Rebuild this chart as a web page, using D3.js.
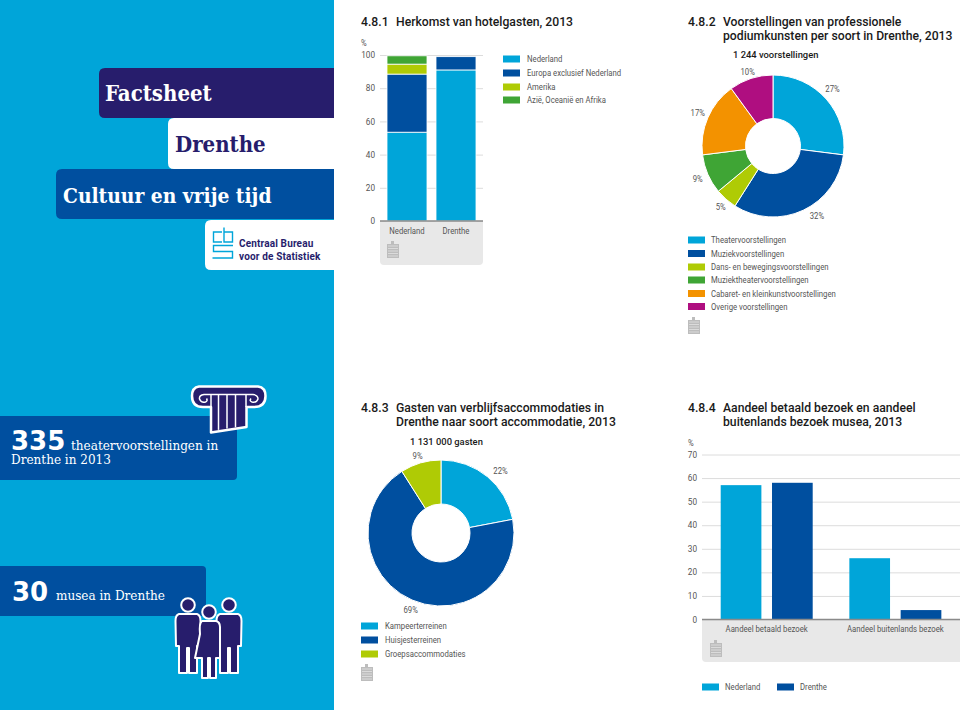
<!DOCTYPE html>
<html><head><meta charset="utf-8">
<script src="https://cdn.jsdelivr.net/npm/d3@7/dist/d3.min.js"></script>
<style>
html,body{margin:0;padding:0;background:#fff}
svg{display:block}
text{font-family:Roboto,sans-serif}
.t{font-weight:500;font-size:12.2px;fill:#1a1a1a}
.s{font-size:8.8px;fill:#555}
.b{font-weight:500;font-size:9.4px;fill:#1a1a1a}
.h{font-family:"DejaVu Serif Condensed","DejaVu Serif",serif;font-stretch:condensed;font-weight:700}
.c{font-family:"DejaVu Serif Condensed","DejaVu Serif",serif;font-stretch:condensed;font-size:13.4px;fill:#fff}
.n{font-family:"DejaVu Sans",sans-serif;font-weight:700;font-size:26px;fill:#fff}
.tick text{font-family:Roboto,sans-serif;font-size:8.2px;fill:#555}
</style></head><body>
<svg id="c" width="960" height="710"></svg>
<script>
// ---- colours
const cyan="#00a5d9", blue="#004f9f", lime="#afcb05", green="#3fa535", orange="#f39200", magenta="#af0e80", purple="#271d6c";

// ---- 4.8.1
const originCategories=["Nederland","Drenthe"];
const originSeries=["Nederland","Europa exclusief Nederland","Amerika","Azië, Oceanië en Afrika"];
const originNederland=[53.5,35,6,5];
const originDrenthe=[91,8,0,0];
const originTicks=[0,20,40,60,80,100];

// ---- 4.8.2
const showTotal="1 244 voorstellingen";
const showTypes=["Theatervoorstellingen","Muziekvoorstellingen","Dans- en bewegingsvoorstellingen","Muziektheatervoorstellingen","Cabaret- en kleinkunstvoorstellingen","Overige voorstellingen"];
const showValues=[27,32,5,9,17,10];

// ---- 4.8.3
const guestTotal="1 131 000 gasten";
const guestTypes=["Kampeerterreinen","Huisjesterreinen","Groepsaccommodaties"];
const guestValues=[22,69,9];

// ---- 4.8.4
const museumCategories=["Aandeel betaald bezoek","Aandeel buitenlands bezoek"];
const museumSeries=["Nederland","Drenthe"];
const museumNederland=[57,26];
const museumDrenthe=[58,4];
const museumTicks=[0,10,20,30,40,50,60,70];

const svg=d3.select("#c");

// ---- left band
svg.append("rect").attr("x",0).attr("y",0).attr("width",334).attr("height",710).attr("fill",cyan);
function tab(x,y,w,h,fill,r=6){
  svg.append("path").attr("fill",fill)
   .attr("d",`M${x+w},${y}H${x+r}Q${x},${y} ${x},${y+r}V${y+h-r}Q${x},${y+h} ${x+r},${y+h}H${x+w}Z`);
}
function tabR(x,y,w,h,fill,r=4){
  svg.append("path").attr("fill",fill)
   .attr("d",`M${x},${y}H${x+w-r}Q${x+w},${y} ${x+w},${y+r}V${y+h-r}Q${x+w},${y+h} ${x+w-r},${y+h}H${x}Z`);
}
tab(99,68,235,50,purple);
tab(168,118,166,51,"#fff");
tab(56,169,278,50,blue);
tab(205,220,129,50,"#fff");
svg.append("text").attr("class","h").attr("x",105).attr("y",101).attr("font-size",22).attr("fill","#fff").text("Factsheet");
svg.append("text").attr("class","h").attr("x",175).attr("y",152).attr("font-size",22).attr("fill",purple).text("Drenthe");
svg.append("text").attr("class","h").attr("x",63).attr("y",203).attr("font-size",20.8).attr("fill","#fff").text("Cultuur en vrije tijd");

// cbs logo
const logo=svg.append("g").attr("fill","none").attr("stroke",cyan).attr("stroke-width",1.4);
logo.append("path").attr("d","M222,232H213.5V242H222 M224,227.5V242H232.5V232H224 M233,245.5H213.5V251.5H232.5V258H212.5");
svg.append("text").attr("x",239).attr("y",247).attr("font-size",10).attr("font-weight",700).attr("fill",purple).attr("letter-spacing",.15).text("Centraal Bureau");
svg.append("text").attr("x",239).attr("y",260).attr("font-size",10).attr("font-weight",700).attr("fill",purple).attr("letter-spacing",.15).text("voor de Statistiek");

// callouts
tabR(0,416,237,64,blue);
tabR(0,566,206,50,blue);
svg.append("text").attr("class","n").attr("x",11).attr("y",450).text("335");
svg.append("text").attr("class","c").attr("x",71).attr("y",450).text("theatervoorstellingen in");
svg.append("text").attr("class","c").attr("x",11).attr("y",464).text("Drenthe in 2013");
svg.append("text").attr("class","n").attr("x",12).attr("y",601).text("30");
svg.append("text").attr("class","c").attr("x",56).attr("y",600).text("musea in Drenthe");

// column icon
const col=svg.append("g");
col.append("path").attr("fill",purple).attr("stroke","#fff").attr("stroke-width",2.5).attr("stroke-linejoin","round")
 .attr("d","M199,386.5H258Q265.5,387.5 265.5,396Q265.5,407 254,407H246.5V427L211,432.5V407H203Q192,407 192,396Q192,387.5 199,386.5Z");
col.append("g").attr("stroke","#fff").attr("stroke-width",1.5).attr("fill","none")
 .selectAll("path").data([218.5,227,235.5]).join("path").attr("d",d=>`M${d},395V${431-(d-211)*.15}`);
col.append("path").attr("stroke","#fff").attr("stroke-width",1.5).attr("fill","none")
 .attr("d","M246,394.5H211H204Q199,395 199.5,399Q201,403 205.5,402Q208,401 206.5,398.5 M211,394.5V407 M246,394.5V407 M246,394.5H253Q258,395 258,399Q256.5,403 252,402Q249,401 251,398.5");

// people icon
const ppl=svg.append("g").attr("fill",purple).attr("stroke","#fff").attr("stroke-width",2).attr("stroke-linejoin","round");
function person(cx,cy){
  ppl.append("circle").attr("cx",cx).attr("cy",cy).attr("r",6.8);
  ppl.append("path").attr("d",`M${cx-9},${cy+9}H${cx+9}Q${cx+12.5},${cy+10} ${cx+12.5},${cy+16}L${cx+12},${cy+41}H${cx+9}V${cy+68}H${cx+1}V${cy+43}H${cx-1}V${cy+68}H${cx-9}V${cy+41}H${cx-12}L${cx-12.5},${cy+16}Q${cx-12.5},${cy+10} ${cx-9},${cy+9}Z`);
}
function dress(cx,cy){
  ppl.append("circle").attr("cx",cx).attr("cy",cy).attr("r",6.8);
  ppl.append("path").attr("d",`M${cx-7},${cy+9}H${cx+7}Q${cx+11},${cy+10} ${cx+11},${cy+15}L${cx+11},${cy+46}H${cx+7}V${cy+66}H${cx+1}V${cy+46}H${cx-1}V${cy+66}H${cx-7}V${cy+46}H${cx-14}L${cx-9},${cy+22}Q${cx-10},${cy+11} ${cx-7},${cy+9}Z`);
}
person(188,605);
person(229,605);
dress(209,612);

// ---- generic helpers
function stamp(x,y){
  const g=svg.append("g").attr("transform",`translate(${x},${y})`);
  g.append("path").attr("fill","#bdbdbd").attr("d","M0,3H4V0H7V3H12V17H0Z");
  g.append("g").attr("stroke","#e8e8e8").attr("stroke-width",.7).selectAll("line").data(d3.range(5,17,2.5)).join("line")
   .attr("x1",1).attr("x2",11).attr("y1",d=>d).attr("y2",d=>d);
}
function title(no,lines,x,y,xt){
  svg.append("text").attr("class","t").attr("x",x).attr("y",y).text(no);
  lines.forEach((l,i)=>svg.append("text").attr("class","t").attr("x",xt).attr("y",y+i*14).text(l));
}
function legend(names,colors,x,ys,labelX){
  names.forEach((n,i)=>{
    svg.append("rect").attr("x",x).attr("y",ys[i]-3.5).attr("width",17).attr("height",7).attr("fill",colors[i]);
    svg.append("text").attr("class","s").attr("x",labelX).attr("y",ys[i]+3).text(n);
  });
}
function valueAxis(y,x0,x1,ticks){
  const g=svg.append("g").attr("transform",`translate(${x0},0)`)
    .call(d3.axisLeft(y).tickValues(ticks).tickSize(-(x1-x0)).tickPadding(5).tickFormat(d3.format("d")));
  g.select(".domain").remove();
  g.selectAll(".tick line").attr("stroke","#dcdcdc");
  return g;
}
function donut(values,colors,cx,cy,R,r,labelR,nudge){
  const pie=d3.pie().sort(null)(values);
  const arc=d3.arc().innerRadius(r).outerRadius(R);
  const la=d3.arc().innerRadius(labelR).outerRadius(labelR);
  const g=svg.append("g").attr("transform",`translate(${cx},${cy})`);
  g.selectAll("path").data(pie).join("path").attr("d",arc).attr("fill",(d,i)=>colors[i]).attr("stroke","#fff").attr("stroke-width",1);
  g.selectAll("text").data(pie).join("text").attr("class","s").attr("text-anchor","middle").attr("dy",3)
   .attr("transform",(d,i)=>{const c=la.centroid(d);return `translate(${c[0]+nudge[i][0]},${c[1]+nudge[i][1]})`;}).text(d=>d.data+"%");
}

// ---- 4.8.1 chart
title("4.8.1",["Herkomst van hotelgasten, 2013"],361,26,396);
svg.append("text").attr("class","s").attr("x",361).attr("y",46).text("%");
svg.append("path").attr("fill","#e8e8e8").attr("d","M380,221H483V261Q483,265 479,265H384Q380,265 380,261Z");
const y1=d3.scaleLinear().domain([0,100]).range([221,55]);
const x1=d3.scaleBand().domain(originCategories).range([380,483]).paddingInner(.184).paddingOuter(.143);
valueAxis(y1,380,483,originTicks);
const originColors=[cyan,blue,lime,green];
[originNederland,originDrenthe].forEach((vals,ci)=>{
  let acc=0;
  vals.forEach((v,si)=>{
    if(!v) return;
    svg.append("rect").attr("x",x1(originCategories[ci])).attr("width",x1.bandwidth())
      .attr("y",y1(acc+v)).attr("height",y1(acc)-y1(acc+v)).attr("fill",originColors[si]).attr("stroke","#fff").attr("stroke-width",.8);
    acc+=v;
  });
  svg.append("text").attr("class","s").attr("text-anchor","middle").attr("x",x1(originCategories[ci])+x1.bandwidth()/2).attr("y",234).text(originCategories[ci]);
});
svg.append("line").attr("x1",380).attr("x2",483).attr("y1",221).attr("y2",221).attr("stroke","#8a8a8a").attr("stroke-width",1.5);
stamp(387,241);
legend(originSeries,originColors,503,[59,73,87,100],527);

// ---- 4.8.2 chart
title("4.8.2",["Voorstellingen van professionele","podiumkunsten per soort in Drenthe, 2013"],688,26,723);
svg.append("text").attr("class","b").attr("x",733).attr("y",58).text(showTotal);
const showColors=[cyan,blue,lime,green,orange,magenta];
donut(showValues,showColors,773,146,71,27.5,82,[[-2,-3],[9,-4],[2,-1],[0,0],[0,0],[0,4]]);
legend(showTypes,showColors,688,[240,253.5,267,280,293.5,306.5],711);
stamp(688,317);

// ---- 4.8.3 chart
title("4.8.3",["Gasten van verblijfsaccommodaties in","Drenthe naar soort accommodatie, 2013"],361,412,396);
svg.append("text").attr("class","b").attr("x",410).attr("y",445).text(guestTotal);
const guestColors=[cyan,blue,lime];
donut(guestValues,guestColors,441,533,73,29,84,[[6,3],[3,0],[0,4]]);
legend(guestTypes,guestColors,361,[626,640,654],385);
stamp(361,664);

// ---- 4.8.4 chart
title("4.8.4",["Aandeel betaald bezoek en aandeel","buitenlands bezoek musea, 2013"],688,412,723);
svg.append("text").attr("class","s").attr("x",688).attr("y",446).text("%");
svg.append("path").attr("fill","#e8e8e8").attr("d","M702,619H960V662H706Q702,662 702,658Z");
const y4=d3.scaleLinear().domain([0,70]).range([619.5,454.5]);
const x4=d3.scaleBand().domain(museumCategories).range([720.7,978]);
const x4in=d3.scaleBand().domain(museumSeries).range([0,92]).paddingInner(.207);
valueAxis(y4,702,960,museumTicks);
museumCategories.forEach((c,i)=>{
  [museumNederland,museumDrenthe].forEach((vals,si)=>{
    svg.append("rect").attr("x",x4(c)+x4in(museumSeries[si])).attr("width",x4in.bandwidth())
     .attr("y",y4(vals[i])).attr("height",y4(0)-y4(vals[i])).attr("fill",si?blue:cyan);
  });
  svg.append("text").attr("class","s").attr("text-anchor","middle").attr("x",x4(c)+46).attr("y",632).text(c);
});
svg.append("line").attr("x1",702).attr("x2",960).attr("y1",619.5).attr("y2",619.5).attr("stroke","#8a8a8a").attr("stroke-width",1.5);
stamp(710,640);
legend([museumSeries[0]],[cyan],702,[687],725);
legend([museumSeries[1]],[blue],777,[687],800);

// small labels run narrow in the reference: condense them to fit
svg.selectAll("text.s").each(function(){
  const t=d3.select(this);
  t.attr("lengthAdjust","spacingAndGlyphs").attr("textLength",this.getComputedTextLength()*0.88);
});
</script>
</body></html>
